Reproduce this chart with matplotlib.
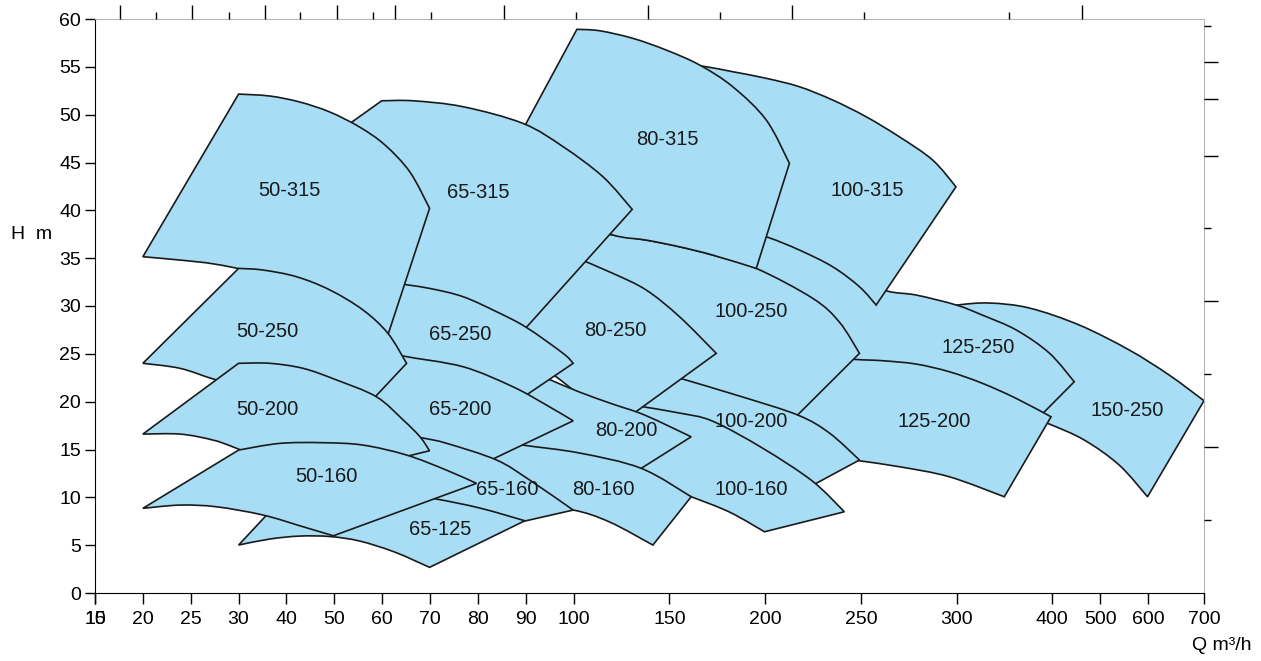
import numpy as np
import matplotlib
matplotlib.use("Agg")
import matplotlib.pyplot as plt
from matplotlib.path import Path
from matplotlib.patches import PathPatch

plt.rcParams['font.family'] = ['Liberation Sans', 'DejaVu Sans']

# Q axis of the sheet is stretched tick by tick (not log, not linear)
q_ticks = [15, 20, 25, 30, 40, 50, 60, 70, 80, 90, 100, 150, 200, 250, 300, 400, 500, 600, 700]
q_slots = [0, 1, 2, 3, 4, 5, 6, 7, 8, 9, 10, 12, 14, 16, 18, 20, 21, 22, 23.17]
h_ticks = list(range(0, 65, 5))

# unlabeled tick marks on the top and right frame
top_major = [17.63, 25.15, 35.49, 50.53, 62.68, 85.48, 138.6, 214.0, 461.4]
top_minor = [21.35, 28.95, 42.92, 58.13, 70.28, 101.3, 176.2, 251.9, 354.6]
right_major = [55.50, 51.63, 45.67, 30.52, 15.26]
right_minor = [59.26, 38.15, 22.89, 7.63]

# pump areas: (Q m3/h, H m) points along the max impeller curve (top)
# and the min impeller curve (bottom), left to right
top_150_250 = [(285.8, 29.58), (300.8, 30.10), (334.2, 30.31), (376.0, 29.79), (456.4, 28.01),
               (560.8, 25.40), (637.9, 22.78), (700, 20.10)]
bot_150_250 = [(264.9, 21.21), (302.9, 20.17), (365.6, 18.81), (396.9, 17.66), (466.8, 15.99),
               (539.9, 13.37), (599, 10.06)]

top_125_250 = [(189.2, 39.19), (217.9, 36.58), (249.3, 32.82), (263.9, 31.56), (279.0, 31.14),
               (299.9, 30.10), (326.9, 29.05), (362.4, 27.49), (396.9, 25.08), (445.9, 22.08)]
bot_125_250 = [(178.8, 30.62), (217.9, 26.44), (254.5, 22.78), (296.2, 19.65), (365.6, 16.30)]

top_125_200 = [(225.8, 24.77), (246.7, 24.42), (261.4, 24.28), (278.9, 23.93), (296.2, 23.13),
               (327.2, 21.91), (362.1, 20.35), (398.7, 18.42)]
bot_125_200 = [(207.5, 14.94), (233.6, 14.31), (249.3, 13.82), (270.1, 13.20), (296.2, 12.15),
               (349.9, 10.06)]

top_100_315 = [(155.3, 55.39), (169.3, 55.01), (183.1, 54.49), (200.6, 53.80), (217.9, 52.92),
               (235.3, 51.53), (252.8, 49.78), (270.1, 47.69), (287.5, 45.26), (299.7, 42.46)]
bot_100_315 = [(134.4, 41.07), (176.2, 38.77), (200.6, 37.24), (217.9, 35.85), (235.3, 34.10),
               (249.3, 32.01), (258.0, 30.10)]

top_100_250 = [(113.6, 37.73), (120.5, 37.42), (137.9, 36.89), (155.3, 36.19), (172.7, 35.32),
               (195.4, 33.93), (224.9, 30.80), (238.8, 28.32), (249.3, 25.05)]
bot_100_250 = [(94.0, 30.62), (124.0, 25.92), (160.5, 21.00), (207.5, 16.72)]

top_100_200 = [(150.1, 22.78), (157.0, 22.36), (186.6, 20.59), (217.1, 18.60), (233.6, 16.72),
               (249.3, 13.90)]
bot_100_200 = [(126.6, 18.08), (160.5, 15.46), (189.2, 12.85), (213.1, 10.00)]

top_100_160 = [(129.2, 19.75), (136.2, 19.47), (155.3, 18.81), (172.5, 17.97), (198.6, 15.15),
               (224.7, 11.70), (241.4, 8.49)]
bot_100_160 = [(124.0, 12.33), (144.9, 11.28), (161.4, 10.06), (181.4, 8.46), (199.7, 6.40)]

top_80_315 = [(101.7, 58.92), (113.6, 58.77), (130.9, 57.98), (148.4, 56.75), (165.8, 55.19),
              (183.1, 52.92), (200.6, 49.44), (212.7, 44.91)]
bot_80_315 = [(82.5, 42.07), (97.1, 39.51), (120.5, 37.42), (137.9, 36.89), (155.3, 36.19),
              (172.7, 35.32), (195.4, 33.93)]

top_80_250 = [(100.5, 35.12), (120.5, 33.41), (137.9, 31.67), (155.3, 28.88), (174.5, 25.05)]
bot_80_250 = [(86.7, 25.74), (95.0, 23.09), (108.4, 19.96), (126.6, 18.08)]

top_80_200 = [(92.9, 22.78), (95.0, 22.31), (103.1, 21.00), (120.4, 19.75), (137.1, 18.60),
              (161.4, 16.33)]
bot_80_200 = [(85.6, 19.16), (88.7, 15.46), (99.2, 13.06), (124.0, 11.60)]

top_80_160 = [(83.5, 15.99), (89.4, 15.46), (103.1, 14.63), (135.3, 13.03), (161.4, 10.06)]
bot_80_160 = [(82.5, 9.71), (90.8, 8.98), (99.9, 8.67), (118.8, 7.42), (141.4, 5.01)]

top_65_315 = [(59.9, 51.45), (66.5, 51.45), (76.9, 50.83), (89.4, 49.09), (97.8, 46.65),
              (115.3, 43.51), (130.6, 40.10)]
bot_65_315 = [(42.8, 45.36), (55.3, 37.42), (69.9, 29.37), (85.7, 25.30)]

top_65_250 = [(62.6, 32.40), (69.9, 31.84), (76.9, 30.97), (83.9, 29.40), (90.1, 27.77),
              (97.8, 25.05), (99.9, 24.01)]
bot_65_250 = [(58.4, 22.78), (67.4, 22.47), (76.6, 20.69), (85.6, 19.16)]

top_65_200 = [(60.6, 25.39), (64.4, 24.77), (76.9, 23.65), (87.3, 21.56), (94.3, 19.65),
              (99.9, 18.00)]
bot_65_200 = [(35.5, 19.12), (56.8, 16.51), (78.3, 12.85)]

top_65_160 = [(49.1, 18.08), (59.5, 17.03), (68.5, 16.20), (73.5, 15.64), (83.9, 13.90),
              (90.8, 11.81), (99.9, 8.67)]
bot_65_160 = [(29.6, 9.71), (59.5, 9.09), (89.8, 7.52)]

top_65_125 = [(41.3, 11.07), (57.4, 10.97), (70.6, 9.89), (80.4, 8.88), (89.8, 7.55)]
bot_65_125 = [(30.0, 5.01), (36.5, 5.64), (42.8, 5.95), (49.1, 5.90), (55.3, 5.43),
              (62.6, 4.28), (69.9, 2.68)]

top_50_315 = [(30.0, 52.15), (36.5, 51.95), (42.8, 51.32), (49.1, 50.27), (55.3, 48.70),
              (60.6, 46.82), (65.8, 44.00), (69.9, 40.21)]
bot_50_315 = [(20.0, 35.15), (23.9, 34.80), (27.5, 34.38), (32.4, 33.55), (42.8, 31.46),
              (60.5, 25.92)]

top_50_250 = [(30.0, 33.93), (35.1, 33.76), (42.1, 33.06), (49.1, 31.67), (56.0, 29.58),
              (61.2, 27.14), (65.1, 24.01)]
bot_50_250 = [(20.0, 24.01), (23.9, 23.48), (27.7, 22.26), (38.6, 20.38), (54.0, 18.08)]

top_50_200 = [(30.0, 24.01), (36.5, 24.01), (43.5, 23.48), (50.5, 22.26), (58.8, 20.51),
              (64.4, 18.08), (67.9, 16.33), (69.9, 14.87)]
bot_50_200 = [(20.0, 16.61), (23.9, 16.61), (27.3, 15.99), (29.8, 15.12), (45.7, 11.91)]

top_50_160 = [(30.0, 14.94), (38.6, 15.64), (47.7, 15.71), (56.0, 15.46), (65.1, 14.42),
              (73.4, 12.85), (79.7, 11.46)]
bot_50_160 = [(20.0, 8.85), (23.9, 9.19), (27.7, 9.01), (35.1, 8.15), (43.5, 6.92), (49.8, 5.98)]

# label of each area
label_names = ["50-315", "65-315", "80-315", "100-315", "50-250", "65-250", "80-250", "100-250",
               "125-250", "150-250", "50-200", "65-200", "80-200", "100-200", "125-200",
               "50-160", "65-160", "80-160", "100-160", "65-125"]
label_q = [40.7, 80.0, 149.1, 253.4, 36.1, 76.2, 121.9, 192.9, 322.8, 556.6, 36.1, 76.2, 127.7,
           192.9, 288.4, 48.4, 86.2, 115.7, 192.9, 72.2]
label_h = [42.1, 41.9, 47.45, 42.1, 27.3, 27.0, 27.4, 29.4, 25.7, 19.1, 19.2, 19.2, 17.0, 17.9,
           17.9, 12.2, 10.8, 10.8, 10.8, 6.6]

# back to front, like on the sheet
areas = [(top_150_250, bot_150_250), (top_125_250, bot_125_250), (top_125_200, bot_125_200),
         (top_100_315, bot_100_315), (top_100_250, bot_100_250), (top_100_200, bot_100_200),
         (top_100_160, bot_100_160), (top_80_315, bot_80_315), (top_80_250, bot_80_250),
         (top_80_200, bot_80_200), (top_80_160, bot_80_160), (top_65_315, bot_65_315),
         (top_65_250, bot_65_250), (top_65_200, bot_65_200), (top_65_160, bot_65_160),
         (top_65_125, bot_65_125), (top_50_315, bot_50_315), (top_50_250, bot_50_250),
         (top_50_200, bot_50_200), (top_50_160, bot_50_160)]


def q_fwd(q):
    return np.interp(q, q_ticks, q_slots)


def q_inv(s):
    return np.interp(s, q_slots, q_ticks)


def smooth(pts):
    """Catmull-Rom through the points, as cubic bezier pieces (in slot space)"""
    p = np.array([(q_fwd(q), h) for q, h in pts], dtype=float)
    ext = np.vstack([p[0], p, p[-1]])
    verts = []
    for i in range(len(p) - 1):
        p0, p1, p2, p3 = ext[i], ext[i + 1], ext[i + 2], ext[i + 3]
        verts += [p1 + (p2 - p0) / 6, p2 - (p3 - p1) / 6, p2]
    return p, verts


def area_path(top, bot):
    tp, tv = smooth(top)
    bp, bv = smooth(bot[::-1])
    verts = [bp[-1], tp[0]] + tv + [bp[0]] + bv + [bp[-1]]
    codes = ([Path.MOVETO, Path.LINETO] + [Path.CURVE4] * len(tv) + [Path.LINETO]
             + [Path.CURVE4] * len(bv) + [Path.CLOSEPOLY])
    verts = np.array(verts)
    verts[:, 0] = q_inv(verts[:, 0])
    return Path(verts, codes)


fig = plt.figure(figsize=(12.61, 6.61), dpi=100)
ax = fig.add_axes([95 / 1261, 68 / 661, 1109 / 1261, 574 / 661])
ax.set_xscale('function', functions=(q_fwd, q_inv))
ax.set_xlim(15, 700)
ax.set_ylim(0, 60)

for top, bot in areas:
    ax.add_patch(PathPatch(area_path(top, bot), facecolor='#a8ddf6', edgecolor='#1a1a1a',
                           lw=1.2, joinstyle='miter'))

for name, q, h in zip(label_names, label_q, label_h):
    ax.text(q, h, name, ha='center', va='center', fontsize=14.5, color='#1a1a1a')

# the sheet prints "10" on top of "15" at the first tick
ax.xaxis.remove_overlapping_locs = False
ax.set_xticks(q_ticks, labels=[str(v) for v in q_ticks])
ax.set_xticks([15], labels=['10'], minor=True)
ax.set_yticks(h_ticks, labels=[str(v) for v in h_ticks])
ax.tick_params(axis='x', which='both', direction='out', length=8, width=1, pad=5, labelsize=14)
ax.tick_params(axis='y', direction='out', length=7, width=1, pad=3, labelsize=14)
for s in ['top', 'right']:
    ax.spines[s].set_color('#b5b5b5')
for s in ['left', 'bottom']:
    ax.spines[s].set_color('black')

# extra tick marks on top / right frame, no labels
ax_top = ax.twiny()
ax_top.set_xscale('function', functions=(q_fwd, q_inv))
ax_top.set_xlim(15, 700)
ax_top.set_xticks(top_major)
ax_top.set_xticks(top_minor, minor=True)
ax_top.tick_params(which='major', length=10, width=1, labeltop=False)
ax_top.tick_params(which='minor', length=5, width=1, labeltop=False)

ax_r = ax.twinx()
ax_r.set_ylim(0, 60)
ax_r.set_yticks(right_major)
ax_r.set_yticks(right_minor, minor=True)
ax_r.tick_params(which='major', length=10, width=1, labelright=False)
ax_r.tick_params(which='minor', length=5, width=1, labelright=False)
for a in (ax_top, ax_r):
    for s in a.spines.values():
        s.set_visible(False)

fig.text(32 / 1261, 1 - 235 / 661, 'H  m', ha='center', va='center', fontsize=14)
fig.text(1252 / 1261, 1 - 645 / 661, 'Q m³/h', ha='right', va='center', fontsize=14)

fig.savefig('out.png', dpi=100)
